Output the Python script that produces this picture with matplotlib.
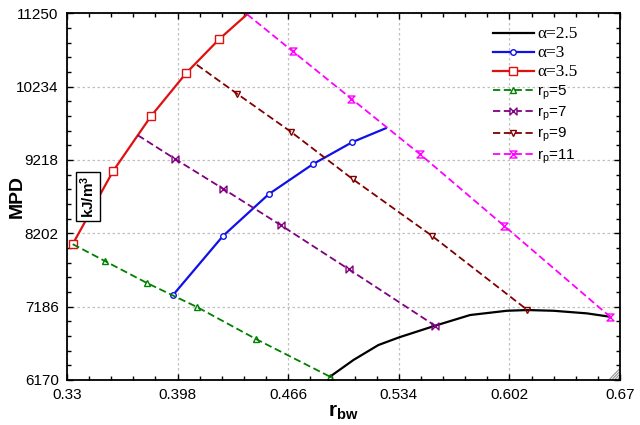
import numpy as np
import matplotlib
matplotlib.use('Agg')
import matplotlib.pyplot as plt
from matplotlib.lines import Line2D
from matplotlib.path import Path
from matplotlib.ticker import AutoMinorLocator, FixedLocator

plt.rcParams['font.family'] = ['Liberation Sans', 'DejaVu Sans']
plt.rcParams['mathtext.fontset'] = 'custom'
plt.rcParams['mathtext.rm'] = 'Liberation Sans'
plt.rcParams['mathtext.it'] = 'Liberation Sans:italic'
plt.rcParams['mathtext.bf'] = 'Liberation Sans:bold'

# кривые alpha
a25_x = [0.4917, 0.5061, 0.5214, 0.5342, 0.5563, 0.5778, 0.6004, 0.6131, 0.6291, 0.6496, 0.6639]
a25_y = [6216, 6447, 6654, 6761, 6922, 7070, 7129, 7139, 7129, 7093, 7046]
a3_x = [0.395, 0.4258, 0.454, 0.4811, 0.5053, 0.526]
a3_y = [7342, 8163, 8744, 9159, 9464, 9658]
a35_x = [0.3335, 0.3583, 0.3816, 0.4032, 0.4235, 0.4407]
a35_y = [8052, 9063, 9824, 10420, 10890, 11236]

# линии r_p
rp5_x = [0.3335, 0.3534, 0.3792, 0.41, 0.4462, 0.4917]
rp5_y = [8052, 7817, 7513, 7180, 6737, 6216]
rp7_x = [0.3735, 0.3964, 0.4261, 0.4614, 0.5034, 0.5563]
rp7_y = [9561, 9233, 8818, 8315, 7702, 6922]
rp9_x = [0.4098, 0.4344, 0.4678, 0.5057, 0.5542, 0.6131]
rp9_y = [10537, 10138, 9606, 8952, 8170, 7139]
rp11_x = [0.4407, 0.4688, 0.5047, 0.5472, 0.5988, 0.6639]
rp11_y = [11236, 10723, 10069, 9295, 8305, 7046]

x_ticks = [0.33, 0.398, 0.466, 0.534, 0.602, 0.67]
x_labels = ['0.33', '0.398', '0.466', '0.534', '0.602', '0.67']
y_ticks = [6170, 7186, 8202, 9218, 10234, 11250]

# маркеры "бантик" и "песочные часы"
bowtie = Path([(-1, -1), (1, 1), (1, -1), (-1, 1), (-1, -1)],
              [Path.MOVETO, Path.LINETO, Path.LINETO, Path.LINETO, Path.CLOSEPOLY])
hourglass = Path([(-1, 1), (1, 1), (-1, -1), (1, -1), (-1, 1)],
                 [Path.MOVETO, Path.LINETO, Path.LINETO, Path.LINETO, Path.CLOSEPOLY])

series = [
    # x, y, color, ls, lw, marker, ms, label, which points get markers
    (a25_x, a25_y, 'black', '-', 1.6, None, 0, 'α=2.5', 'none'),
    (a3_x, a3_y, '#1010e8', '-', 1.6, 'o', 4, 'α=3', 'head'),
    (a35_x, a35_y, '#e01010', '-', 1.6, 's', 5.5, 'α=3.5', 'head'),
    (rp5_x, rp5_y, '#008000', '--', 1.3, '^', 5, r'r$_\mathrm{p}$=5', 'tail'),
    (rp7_x, rp7_y, '#800080', '--', 1.3, bowtie, 5, r'r$_\mathrm{p}$=7', 'tail'),
    (rp9_x, rp9_y, '#800000', '--', 1.3, 'v', 5, r'r$_\mathrm{p}$=9', 'tail'),
    (rp11_x, rp11_y, '#ff00ff', '--', 1.3, hourglass, 5, r'r$_\mathrm{p}$=11', 'tail'),
]

fig = plt.figure(figsize=(6.4, 4.25), dpi=100)
ax = fig.add_axes([0.1047, 0.1059, 0.8641, 0.8628])

handles = []
for x, y, c, ls, lw, mk, ms, lab, which in series:
    ax.plot(x, y, color=c, ls=ls, lw=lw, dashes=(4, 2) if ls == '--' else (None, None))
    if which == 'head':
        ax.plot(x[:-1], y[:-1], ls='none', marker=mk, ms=ms, mfc='white', mec=c, mew=1)
    elif which == 'tail':
        ax.plot(x[1:], y[1:], ls='none', marker=mk, ms=ms, mfc='none', mec=c, mew=1)
    h = Line2D([], [], color=c, ls=ls, lw=lw, marker=mk if mk is not None else 'None',
               ms=ms, mfc='white', mec=c, mew=1)
    if ls == '--':
        h.set_dashes((4, 2))
    handles.append(h)

ax.set_xlim(0.33, 0.67)
ax.set_ylim(6170, 11250)
ax.xaxis.set_major_locator(FixedLocator(x_ticks))
ax.set_xticklabels(x_labels)
ax.yaxis.set_major_locator(FixedLocator(y_ticks))
ax.xaxis.set_minor_locator(AutoMinorLocator(5))
ax.yaxis.set_minor_locator(AutoMinorLocator(5))
ax.tick_params(which='both', direction='in', top=True, right=True, labelsize=11, width=1)
ax.tick_params(which='major', length=4, pad=6)
ax.tick_params(which='minor', length=3)
ax.grid(True, which='major', color='#c0c0c0', ls=(0, (2, 2)), lw=0.9)
for sp in ax.spines.values():
    sp.set_linewidth(1.3)

ax.set_ylabel('MPD', fontsize=14, fontweight='bold')
ax.yaxis.set_label_coords(-0.074, 0.5)
ax.set_xlabel(r'$\mathbf{r_{bw}}$', fontsize=15, labelpad=0)
ax.text(0.038, 0.5, r'$\mathbf{kJ/m^3}$', transform=ax.transAxes, rotation=90,
        fontsize=11, ha='center', va='center',
        bbox=dict(boxstyle='square,pad=0.2', fc='white', ec='black', lw=1))

leg = ax.legend(handles, [s[7] for s in series], loc='upper left',
                bbox_to_anchor=(0.77, 0.965), frameon=False, fontsize=11,
                handlelength=2.7, handletextpad=0.2, labelspacing=0.2,
                borderpad=0, borderaxespad=0)
for t in leg.get_texts()[:3]:
    t.set_family(['Liberation Serif', 'DejaVu Serif'])
    t.set_fontsize(12.5)

# уголок-"ручка" в правом нижнем углу
for k in range(4):
    d = 0.004 + k * 0.005
    ax.plot([1 - d, 0.998], [0.002, d * 553 / 367], color='#909090', lw=0.8,
            transform=ax.transAxes, clip_on=False)

fig.savefig('out.png', dpi=100)
